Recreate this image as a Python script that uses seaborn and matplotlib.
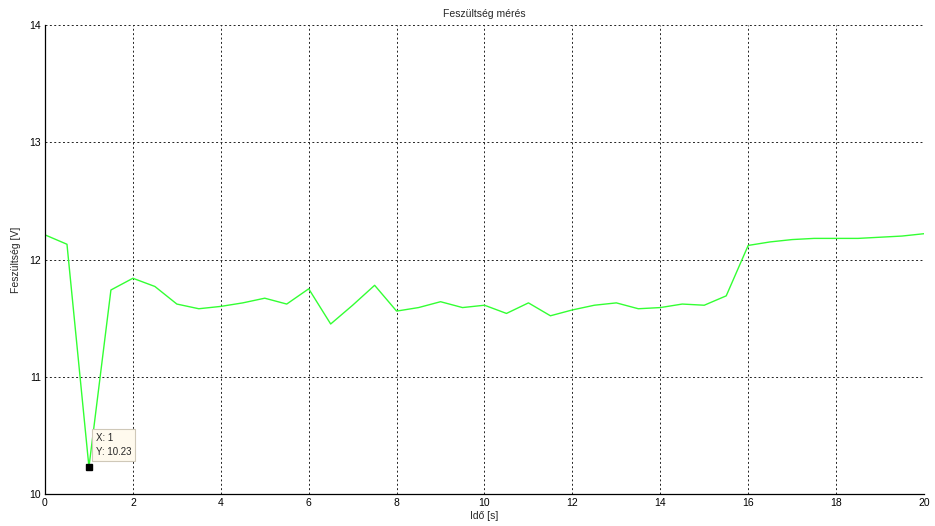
import matplotlib
matplotlib.use("Agg")
import matplotlib.pyplot as plt
import seaborn as sns
import numpy as np
import pandas as pd

# Measurement samples (every 0.5 s)
time_s = [0.0, 0.5, 1.0, 1.5, 2.0, 2.5, 3.0, 3.5, 4.0, 4.5,
          5.0, 5.5, 6.0, 6.5, 7.0, 7.5, 8.0, 8.5, 9.0, 9.5,
          10.0, 10.5, 11.0, 11.5, 12.0, 12.5, 13.0, 13.5, 14.0, 14.5,
          15.0, 15.5, 16.0, 16.5, 17.0, 17.5, 18.0, 18.5, 19.0, 19.5, 20.0]
voltage_v = [12.21, 12.13, 10.23, 11.74, 11.84, 11.77, 11.62, 11.58, 11.60, 11.63,
             11.67, 11.62, 11.75, 11.45, 11.61, 11.78, 11.56, 11.59, 11.64, 11.59,
             11.61, 11.54, 11.63, 11.52, 11.57, 11.61, 11.63, 11.58, 11.59, 11.62,
             11.61, 11.69, 12.12, 12.15, 12.17, 12.18, 12.18, 12.18, 12.19, 12.20, 12.22]
x_ticks = [0, 2, 4, 6, 8, 10, 12, 14, 16, 18, 20]
y_ticks = [10, 11, 12, 13, 14]
tip_index = 2

sns.set_style("white")
plt.rcParams["font.family"] = ["Liberation Sans", "DejaVu Sans"]

df = pd.DataFrame({"t": time_s, "u": voltage_v})

fig = plt.figure(figsize=(9.35, 5.26), dpi=100)
ax = fig.add_axes([45 / 935, 32 / 526, 879 / 935, 469 / 526])

sns.lineplot(data=df, x="t", y="u", ax=ax, color="#33ff33", linewidth=1.0)

ax.set_xlim(0, 20)
ax.set_ylim(10, 14)
ax.set_xticks(x_ticks)
ax.set_yticks(y_ticks)
ax.tick_params(axis="both", direction="in", length=4, labelsize=7.5,
               colors="black", pad=3, width=0.8)
ax.grid(True, color="#222222", linestyle=(0, (2, 2.5)), linewidth=0.7)

for side in ["top", "right"]:
    ax.spines[side].set_visible(False)
for side in ["left", "bottom"]:
    ax.spines[side].set_color("black")
    ax.spines[side].set_linewidth(0.9)

ax.set_title("Feszültség mérés", fontsize=7.5, pad=6)
ax.set_xlabel("Idő [s]", fontsize=7.5, labelpad=2)
ax.set_ylabel("Feszültség [V]", fontsize=7.5, labelpad=6)

# Data tip at the minimum
tx, ty = time_s[tip_index], voltage_v[tip_index]
ax.plot([tx], [ty], marker="s", markersize=5, color="black", zorder=5)
ax.annotate(f"X: {tx:g}\nY: {ty:.2f}", xy=(tx, ty), xytext=(7, 10),
            textcoords="offset pixels", fontsize=7, va="bottom", ha="left",
            linespacing=1.5,
            bbox=dict(boxstyle="square,pad=0.4", facecolor="#fffaee",
                      edgecolor="#cfc8b8", linewidth=0.8),
            zorder=6)

fig.savefig("out.png", dpi=100)
